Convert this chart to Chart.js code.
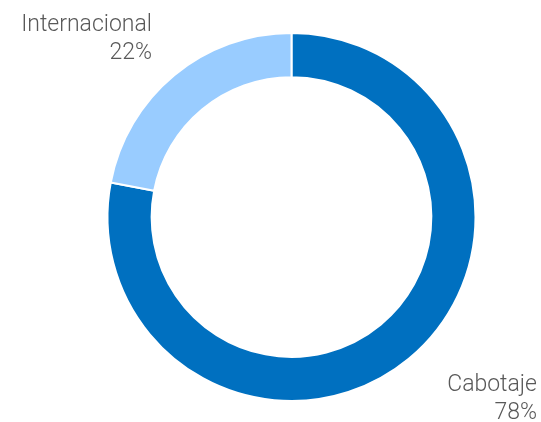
<!DOCTYPE html>
<html>
<head>
<meta charset="utf-8">
<script src="https://cdn.jsdelivr.net/npm/chart.js@4/dist/chart.umd.min.js"></script>
<style>
  html, body { margin: 0; padding: 0; background: #fff; }
  #wrap { width: 541px; height: 422px; }
</style>
</head>
<body>
<div id="wrap"><canvas id="dona"></canvas></div>
<script>
const categories = ['Cabotaje', 'Internacional'];
const shares = [78, 22];
const colors = ['#0070C0', '#99CCFF'];

// label positions (right aligned, baseline of first line)
const labelSpots = [
  { x: 537, y: 391 },
  { x: 152, y: 31 }
];

const outerLabels = {
  id: 'outerLabels',
  afterDraw(chart) {
    const ctx = chart.ctx;
    ctx.save();
    ctx.fillStyle = '#595959';
    ctx.font = '300 23px Roboto';
    ctx.textAlign = 'right';
    ctx.textBaseline = 'alphabetic';
    categories.forEach((name, i) => {
      const p = labelSpots[i];
      ctx.fillText(name, p.x, p.y);
      ctx.fillText(shares[i] + '%', p.x, p.y + 28);
    });
    ctx.restore();
  }
};

new Chart(document.getElementById('dona').getContext('2d'), {
  type: 'doughnut',
  data: {
    labels: categories,
    datasets: [{
      data: shares,
      backgroundColor: colors,
      borderColor: '#ffffff',
      borderWidth: 2
    }]
  },
  options: {
    responsive: true,
    maintainAspectRatio: false,
    animation: false,
    cutout: '76%',
    layout: { padding: { top: 32, bottom: 20, left: 106, right: 64 } },
    plugins: {
      legend: { display: false },
      tooltip: { enabled: false }
    }
  },
  plugins: [outerLabels]
});
</script>
</body>
</html>
